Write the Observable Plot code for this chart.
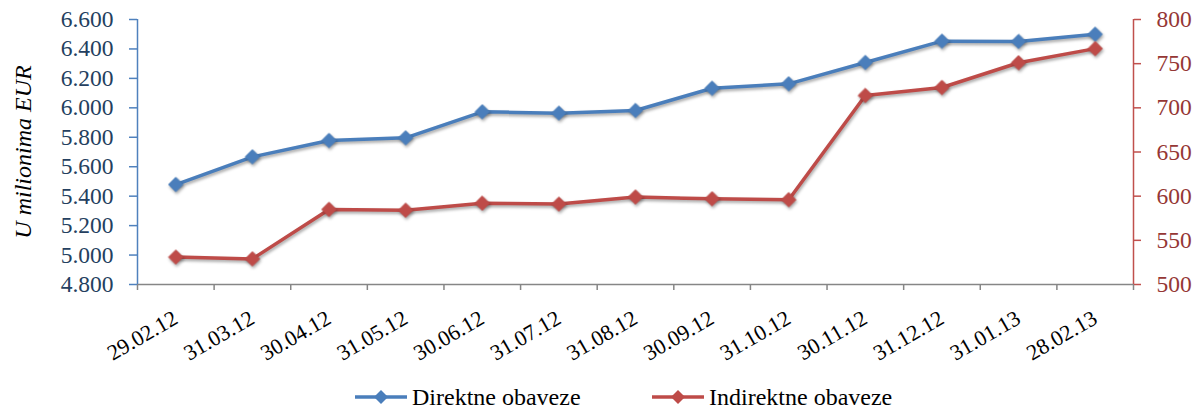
<!DOCTYPE html>
<html>
<head>
<meta charset="utf-8">
<script src="https://cdn.jsdelivr.net/npm/d3@7"></script>
<script src="https://cdn.jsdelivr.net/npm/@observablehq/plot@0.6"></script>
<style>
  html, body { margin: 0; padding: 0; background: #fff; }
  #chart { width: 1201px; }
  svg [aria-label="line"], svg [aria-label="dot"] { filter: drop-shadow(1px 2px 1.5px rgba(0,0,0,0.35)); }
  #legend { position: relative; width: 1201px; height: 40px; font-family: "Liberation Serif", "Times New Roman", serif; font-size: 24px; color: #000; }
  .item { position: absolute; top: 13px; display: flex; align-items: center; height: 28px; white-space: nowrap; }
  .item svg { margin-right: 5px; overflow: visible; }
</style>
</head>
<body>
<div id="chart"></div>
<div id="legend"></div>
<script>
const dates = ["29.02.12","31.03.12","30.04.12","31.05.12","30.06.12","31.07.12","31.08.12","30.09.12","31.10.12","30.11.12","31.12.12","31.01.13","28.02.13"];
const direktne = [5479, 5667, 5778, 5796, 5973, 5964, 5982, 6133, 6163, 6308, 6453, 6451, 6500];
const indirektne = [531, 529, 585, 584, 592, 591, 599, 597, 596, 714, 723, 751, 767];
const seriesNames = ["Direktne obaveze", "Indirektne obaveze"];
const leftTicks = [4800, 5000, 5200, 5400, 5600, 5800, 6000, 6200, 6400, 6600];
const rightTicks = [500, 550, 600, 650, 700, 750, 800];
const yTitle = "U milionima EUR";

const blue = "#4A7EBB", red = "#BE4B48";
const leftDomain = [leftTicks[0], leftTicks[leftTicks.length - 1]];
const rightDomain = [rightTicks[0], rightTicks[rightTicks.length - 1]];
const toLeft = d3.scaleLinear().domain(rightDomain).range(leftDomain);
const fmt = d3.formatLocale({decimal: ",", thousands: ".", grouping: [3], currency: ["", ""]}).format(",d");

const idx = dates.map((d, i) => i);
const boundaries = d3.range(dates.length + 1).map(i => i - 0.5);
const dataD = idx.map(i => ({i, v: direktne[i]}));
const dataI = idx.map(i => ({i, v: toLeft(indirektne[i])}));
const font = '"Liberation Serif", "Times New Roman", serif';

const chart = Plot.plot({
  width: 1201,
  height: 370,
  marginTop: 19,
  marginBottom: 86,
  marginLeft: 137,
  marginRight: 68,
  style: {fontFamily: font, background: "#fff"},
  x: {type: "linear", domain: [boundaries[0], boundaries[boundaries.length - 1]]},
  y: {domain: leftDomain},
  marks: [
    Plot.ruleY([leftDomain[0]], {stroke: "#868686", strokeWidth: 1.5}),
    Plot.axisX({ticks: boundaries, tickSize: 6, tickFormat: () => "", stroke: "#868686", strokeWidth: 1.5, label: null}),
    Plot.axisX({ticks: idx, tickSize: 0, tickPadding: 32, tickRotate: -30, tickFormat: i => dates[i], fill: "#000", fontSize: 22, label: null}),
    Plot.ruleX([boundaries[0]], {stroke: "#4F81BD", strokeWidth: 1.5}),
    Plot.axisY({ticks: leftTicks, tickSize: 8, tickPadding: 16, tickFormat: fmt, stroke: "#4F81BD", strokeWidth: 1.5, fill: "#243F60", fontSize: 23.5, label: null}),
    Plot.ruleX([boundaries[boundaries.length - 1]], {stroke: "#C0504D", strokeWidth: 1.5}),
    Plot.axisY({anchor: "right", ticks: rightTicks.map(toLeft), tickSize: 7, tickPadding: 16, tickFormat: d => Math.round(toLeft.invert(d)), stroke: "#C0504D", strokeWidth: 1.5, fill: "#953735", fontSize: 23.5, label: null}),
    Plot.text([yTitle], {frameAnchor: "left", textAnchor: "middle", rotate: -90, dx: -114, fontStyle: "italic", fontSize: 24, fill: "#000"}),
    Plot.line(dataD, {x: "i", y: "v", stroke: blue, strokeWidth: 3.5}),
    Plot.dot(dataD, {x: "i", y: "v", symbol: "diamond2", r: 6.5, fill: blue, stroke: blue, strokeWidth: 1}),
    Plot.line(dataI, {x: "i", y: "v", stroke: red, strokeWidth: 3.5}),
    Plot.dot(dataI, {x: "i", y: "v", symbol: "diamond2", r: 6.5, fill: red, stroke: red, strokeWidth: 1})
  ]
});
document.getElementById("chart").appendChild(chart);

const legend = document.getElementById("legend");
const lefts = [355, 652];
[blue, red].forEach((c, k) => {
  const div = document.createElement("div");
  div.className = "item";
  div.style.left = lefts[k] + "px";
  div.innerHTML = `<svg width="52" height="16" viewBox="0 0 52 16"><line x1="0" y1="8" x2="52" y2="8" stroke="${c}" stroke-width="3.5"/><path d="M26,1 L33,8 L26,15 L19,8 Z" fill="${c}"/></svg><span>${seriesNames[k]}</span>`;
  legend.appendChild(div);
});
</script>
</body>
</html>
